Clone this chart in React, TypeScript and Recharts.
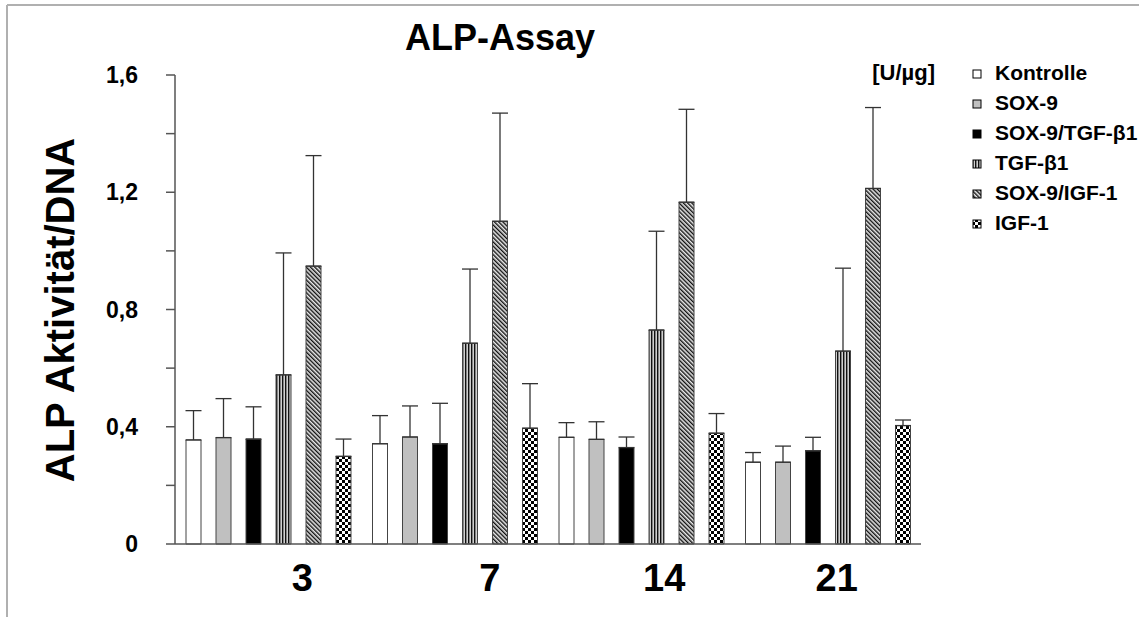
import React from 'react';
import { BarChart, Bar, XAxis, YAxis, ErrorBar } from 'recharts';

const DAYS = ['3', '7', '14', '21'];
const GROUPS = ['Kontrolle', 'SOX-9', 'SOX-9/TGF-β1', 'TGF-β1', 'SOX-9/IGF-1', 'IGF-1'];

// mean values per day (3, 7, 14, 21)
const KONTROLLE = [0.355, 0.342, 0.364, 0.279];
const SOX9 = [0.363, 0.365, 0.357, 0.279];
const SOX9_TGF = [0.358, 0.342, 0.329, 0.318];
const TGF = [0.577, 0.685, 0.730, 0.658];
const SOX9_IGF = [0.948, 1.101, 1.166, 1.213];
const IGF = [0.299, 0.395, 0.378, 0.404];

// upper standard deviation
const KONTROLLE_SD = [0.100, 0.096, 0.050, 0.033];
const SOX9_SD = [0.133, 0.106, 0.060, 0.055];
const SOX9_TGF_SD = [0.110, 0.138, 0.036, 0.046];
const TGF_SD = [0.416, 0.253, 0.337, 0.283];
const SOX9_IGF_SD = [0.377, 0.369, 0.317, 0.276];
const IGF_SD = [0.059, 0.152, 0.067, 0.019];

const Y_TICKS = [0, 0.2, 0.4, 0.6, 0.8, 1.0, 1.2, 1.4, 1.6];
const X_EDGES = [0, 1, 2, 3, 4];

const FONT = '"Liberation Sans", Arial, sans-serif';
const AXIS = '#555';

const MEANS = [KONTROLLE, SOX9, SOX9_TGF, TGF, SOX9_IGF, IGF];
const SDS = [KONTROLLE_SD, SOX9_SD, SOX9_TGF_SD, TGF_SD, SOX9_IGF_SD, IGF_SD];
const FILLS = ['#ffffff', '#c0c0c0', '#000000', 'url(#pVert)', 'url(#pDiag)', 'url(#pCheck)'];

const data = DAYS.map((day, d) => {
  const row: Record<string, any> = { day };
  GROUPS.forEach((_, g) => {
    row['v' + g] = MEANS[g][d];
    row['e' + g] = [0, SDS[g][d]];
  });
  return row;
});

// small manual nudges of the day labels, as in the original figure
const LABEL_DX = [34, 35, 23, 9];

const DayTick = (props: any) => {
  const { x, y, payload, index } = props;
  return (
    <text x={x + (LABEL_DX[index] ?? 0)} y={y + 46} textAnchor="middle"
      fontFamily={FONT} fontWeight="bold" fontSize={38} fill="#000">
      {payload.value}
    </text>
  );
};

const fmtY = (v: number) => {
  const r = Math.round(v * 10) / 10;
  if (Math.round(r * 10) % 4 !== 0) return '';
  return String(r).replace('.', ',');
};

export default function App() {
  return (
    <div style={{ position: 'absolute', left: 0, top: 0, background: '#fff' }}>
      <BarChart width={1139} height={617} data={data}
        margin={{ top: 75, right: 218, left: 0, bottom: 12 }}
        barGap={15} barCategoryGap={10}>
        <defs>
          <pattern id="pVert" width="3" height="4" patternUnits="userSpaceOnUse">
            <rect width="3" height="4" fill="#d0d0d0" />
            <rect x="0" width="1.4" height="4" fill="#111" />
          </pattern>
          <pattern id="pDiag" width="3" height="3" patternUnits="userSpaceOnUse" patternTransform="rotate(-45)">
            <rect width="3" height="3" fill="#e8e8e8" />
            <rect x="0" width="1.4" height="3" fill="#111" />
          </pattern>
          <pattern id="pCheck" width="6" height="6" patternUnits="userSpaceOnUse">
            <rect width="6" height="6" fill="#fff" />
            <rect x="0" y="0" width="3" height="3" fill="#000" />
            <rect x="3" y="3" width="3" height="3" fill="#000" />
          </pattern>
        </defs>

        {/* frame */}
        <line x1={7} y1={5} x2={1139} y2={5} stroke="#b0b0b0" strokeWidth={2} />
        <line x1={7} y1={5} x2={7} y2={617} stroke="#b0b0b0" strokeWidth={2} />

        <text x={500} y={50} textAnchor="middle" fontFamily={FONT} fontWeight="bold" fontSize={36}>ALP-Assay</text>
        <text x={935} y={80} textAnchor="end" fontFamily={FONT} fontWeight="bold" fontSize={22}>[U/µg]</text>
        <text x={60} y={310} textAnchor="middle" dominantBaseline="central" transform="rotate(-90 60 310)"
          fontFamily={FONT} fontWeight="bold" fontSize={40}>ALP Aktivität/DNA</text>

        {GROUPS.map((name, g) => (
          <g key={name}>
            <rect x={973} y={70 + g * 30} width={8} height={8} fill={FILLS[g]} stroke="#000" strokeWidth={1} />
            <text x={995} y={80 + g * 30} fontFamily={FONT} fontWeight="bold" fontSize={21} fill="#000">{name}</text>
          </g>
        ))}

        <XAxis xAxisId="a" type="number" domain={[0, 4]} ticks={X_EDGES} height={1}
          tick={false} tickSize={10} axisLine={{ stroke: AXIS, strokeWidth: 1.5 }}
          tickLine={{ stroke: AXIS, strokeWidth: 1.5 }} />
        <XAxis xAxisId="b" dataKey="day" height={60} axisLine={false} tickLine={false}
          tickSize={0} tickMargin={0} tick={<DayTick />} interval={0} />
        <YAxis width={175} domain={[0, 1.6]} ticks={Y_TICKS} tickFormatter={fmtY}
          tickSize={9} tickMargin={28} interval={0}
          axisLine={{ stroke: AXIS, strokeWidth: 1.5 }} tickLine={{ stroke: AXIS, strokeWidth: 1.5 }}
          tick={{ fill: '#000', fontSize: 23, fontWeight: 'bold', fontFamily: FONT }} />

        {GROUPS.map((name, g) => (
          <Bar key={name} xAxisId="b" dataKey={'v' + g} name={name} fill={FILLS[g]} stroke="#444" strokeWidth={1}
            barSize={15} isAnimationActive={false}>
            <ErrorBar dataKey={'e' + g} width={8} stroke="#333" strokeWidth={1.3} direction="y" />
          </Bar>
        ))}
      </BarChart>
    </div>
  );
}
